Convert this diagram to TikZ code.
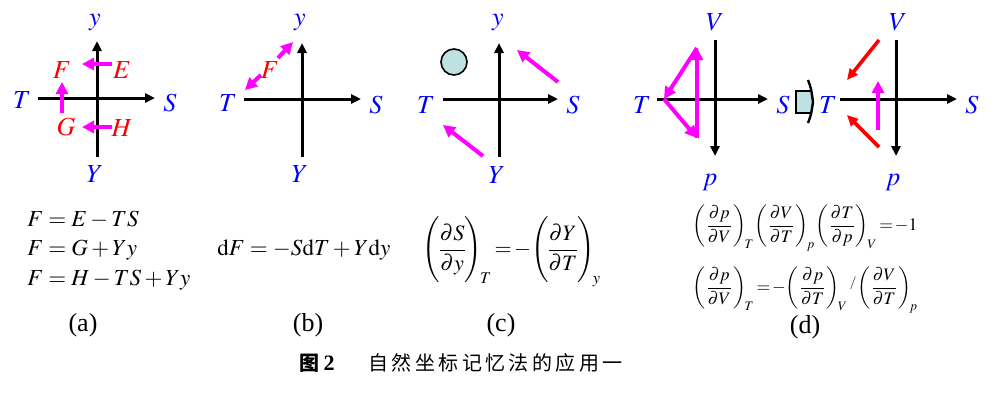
\documentclass[tikz,border=0pt]{standalone}
\usepackage{amsmath}
\usepackage{mathptmx}
\usepackage{fontspec}
\setmainfont{Liberation Serif}
\newfontfamily\cjk{Noto Sans CJK SC}
\usetikzlibrary{arrows.meta}
\definecolor{lila}{RGB}{255,0,255}
\definecolor{krasn}{RGB}{255,0,0}
\definecolor{sin}{RGB}{0,0,255}
\definecolor{bir}{RGB}{190,225,225}
\newcommand{\vstoyka}{\rule[-12pt]{0pt}{29pt}}
\tikzset{
  os/.style={line width=1.5pt, -{Triangle[length=5pt,width=4.5pt]}},
  strel/.style={lila, line width=2pt, -{Triangle[length=6pt,width=6pt]}},
  rstrel/.style={krasn, line width=1.8pt, -{Triangle[length=5.5pt,width=5pt]}},
  bukva/.style={text=sin, inner sep=0pt, font=\fontsize{13}{15}\selectfont},
  rbukva/.style={text=krasn, inner sep=0pt, font=\fontsize{13}{15}\selectfont},
  formula/.style={anchor=west, inner sep=0pt, font=\fontsize{11.5}{13}\selectfont},
  podpis/.style={inner sep=0pt, font=\fontsize{13}{15}\selectfont},
}
\begin{document}
\begin{tikzpicture}[x=0.5pt, y=-0.5pt]
                \useasboundingbox ( 0, 0 ) rectangle ( 1000, 408 );
% панель (a)
                \coordinate (a-l) at ( 38, 98 );
                \coordinate (a-r) at ( 155, 98 );
                \coordinate (a-b) at ( 97, 157 );
                \coordinate (a-t) at ( 97, 41 );
                \draw [os] (a-l) -- (a-r);
                \draw [os] (a-b) -- (a-t);
                \node [bukva] (a-y) at ( 95, 22 ) {$y$};
                \node [bukva] (a-T) at ( 22, 100 ) {$T$};
                \node [bukva] (a-S) at ( 170, 103 ) {$S$};
                \node [bukva] (a-Y) at ( 95, 174 ) {$Y$};
                \node [rbukva] (a-F) at ( 62, 70 ) {$F$};
                \node [rbukva] (a-E) at ( 122, 70 ) {$E$};
                \node [rbukva] (a-G) at ( 66, 127 ) {$G$};
                \node [rbukva] (a-H) at ( 122, 128 ) {$H$};
                \coordinate (a-e1) at ( 112, 64 );
                \coordinate (a-e2) at ( 82, 64 );
                \coordinate (a-h1) at ( 112, 127 );
                \coordinate (a-h2) at ( 82, 127 );
                \coordinate (a-g1) at ( 62, 113 );
                \coordinate (a-g2) at ( 62, 82 );
                \draw [strel] (a-e1) -- (a-e2);
                \draw [strel] (a-h1) -- (a-h2);
                \draw [strel] (a-g1) -- (a-g2);
% панель (b)
                \coordinate (b-l) at ( 244, 99 );
                \coordinate (b-r) at ( 361, 99 );
                \coordinate (b-b) at ( 302, 157 );
                \coordinate (b-t) at ( 302, 43 );
                \draw [os] (b-l) -- (b-r);
                \draw [os] (b-b) -- (b-t);
                \node [bukva] (b-y) at ( 300, 22 ) {$y$};
                \node [bukva] (b-T) at ( 228, 103 ) {$T$};
                \node [bukva] (b-S) at ( 376, 105 ) {$S$};
                \node [bukva] (b-Y) at ( 300, 174 ) {$Y$};
                \node [rbukva] (b-F) at ( 270, 70 ) {$F$};
                \coordinate (b-f1) at ( 261, 75 );
                \coordinate (b-f2) at ( 245, 90 );
                \coordinate (b-f3) at ( 278, 58 );
                \coordinate (b-f4) at ( 293, 42 );
                \draw [strel] (b-f1) -- (b-f2);
                \draw [strel] (b-f3) -- (b-f4);
% панель (c)
                \coordinate (c-l) at ( 443, 99 );
                \coordinate (c-r) at ( 558, 99 );
                \coordinate (c-b) at ( 499, 157 );
                \coordinate (c-t) at ( 499, 43 );
                \draw [os] (c-l) -- (c-r);
                \draw [os] (c-b) -- (c-t);
                \node [bukva] (c-y) at ( 498, 22 ) {$y$};
                \node [bukva] (c-T) at ( 426, 105 ) {$T$};
                \node [bukva] (c-S) at ( 573, 105 ) {$S$};
                \node [bukva] (c-Y) at ( 497, 175 ) {$Y$};
                \draw [fill=bir, line width=0.8pt] ( 454, 62 ) circle ( 13 );
                \coordinate (c-s1) at ( 558, 82 );
                \coordinate (c-s2) at ( 517, 50 );
                \coordinate (c-s3) at ( 483, 156 );
                \coordinate (c-s4) at ( 443, 125 );
                \draw [strel] (c-s1) -- (c-s2);
                \draw [strel] (c-s3) -- (c-s4);
% панель (d), слева
                \coordinate (d-l) at ( 657, 99 );
                \coordinate (d-r) at ( 768, 99 );
                \coordinate (d-t) at ( 715, 40 );
                \coordinate (d-b) at ( 715, 156 );
                \draw [os] (d-l) -- (d-r);
                \draw [os] (d-t) -- (d-b);
                \node [bukva] (d-V) at ( 715, 22 ) {$V$};
                \node [bukva] (d-T) at ( 642, 105 ) {$T$};
                \node [bukva] (d-S) at ( 783, 105 ) {$S$};
                \node [bukva] (d-p) at ( 710, 182 ) {$p$};
                \coordinate (d-v0) at ( 664, 99 );
                \coordinate (d-v1) at ( 697, 138 );
                \coordinate (d-v2) at ( 697, 48 );
                \draw [strel] (d-v0) -- (d-v1);
                \draw [strel] (d-v1) -- (d-v2);
                \draw [strel] (d-v2) -- (d-v0);
% переход
                \fill [bir] ( 796, 91 ) -- ( 810, 91 ) -- ( 813, 102 ) -- ( 810, 113 ) -- ( 796, 113 ) -- cycle;
                \draw [line width=0.9pt] ( 810, 91 ) -- ( 796, 91 ) -- ( 796, 113 ) -- ( 810, 113 );
                \draw [line width=1.2pt] ( 808, 80 ) .. controls ( 811, 88 ) .. ( 813, 102 )
                        .. controls ( 811, 115 ) .. ( 808, 123 );
% панель (d), справа
                \coordinate (e-l) at ( 840, 99 );
                \coordinate (e-r) at ( 957, 99 );
                \coordinate (e-t) at ( 896, 40 );
                \coordinate (e-b) at ( 896, 156 );
                \draw [os] (e-l) -- (e-r);
                \draw [os] (e-t) -- (e-b);
                \node [bukva] (e-V) at ( 898, 22 ) {$V$};
                \node [bukva] (e-T) at ( 828, 105 ) {$T$};
                \node [bukva] (e-S) at ( 972, 105 ) {$S$};
                \node [bukva] (e-p) at ( 893, 182 ) {$p$};
                \coordinate (e-r1) at ( 879, 40 );
                \coordinate (e-r2) at ( 847, 80 );
                \coordinate (e-r3) at ( 879, 147 );
                \coordinate (e-r4) at ( 847, 115 );
                \coordinate (e-m1) at ( 878, 130 );
                \coordinate (e-m2) at ( 878, 81 );
                \draw [rstrel] (e-r1) -- (e-r2);
                \draw [rstrel] (e-r3) -- (e-r4);
                \draw [strel] (e-m1) -- (e-m2);
% формулы
                \node [formula] (fa1) at ( 27, 220 ) {$F = E - TS$};
                \node [formula] (fa2) at ( 27, 250 ) {$F = G + Yy$};
                \node [formula] (fa3) at ( 27, 280 ) {$F = H - TS + Yy$};
                \node [formula] (fb) at ( 217, 250 ) {$\mathrm{d}F = -S\mathrm{d}T + Y\mathrm{d}y$};
                \node [formula, font=\fontsize{11}{13}\selectfont] (fc) at ( 422, 252 )
                        {$\left(\!\vstoyka\dfrac{\partial S}{\partial y}\!\right)_{\!T}\!=\!-\!\left(\!\vstoyka\dfrac{\partial Y}{\partial T}\!\right)_{\!y}$};
                \node [formula, font=\fontsize{8.8}{10}\selectfont] (fd1) at ( 692, 228 )
                        {$\left(\dfrac{\partial p}{\partial V}\right)_{\!T}\!\left(\dfrac{\partial V}{\partial T}\right)_{\!p}\!\left(\dfrac{\partial T}{\partial p}\right)_{\!V}\!=\!-1$};
                \node [formula, font=\fontsize{8.8}{10}\selectfont] (fd2) at ( 692, 290 )
                        {$\left(\dfrac{\partial p}{\partial V}\right)_{\!T}\!=\!-\!\left(\dfrac{\partial p}{\partial T}\right)_{\!V}{}^{/}\!\left(\dfrac{\partial V}{\partial T}\right)_{\!p}$};
% подписи
                \node [podpis] (pa) at ( 83, 325 ) {(a)};
                \node [podpis] (pb) at ( 308, 325 ) {(b)};
                \node [podpis] (pc) at ( 501, 325 ) {(c)};
                \node [podpis] (pd) at ( 805, 327 ) {(d)};
                \node [inner sep=0pt, font=\fontsize{10}{12}\selectfont\cjk\bfseries] (fig) at ( 309, 363 ) {图};
                \node [inner sep=0pt, font=\fontsize{11}{12}\selectfont\bfseries] (fign) at ( 329, 363 ) {2};
                \node [inner sep=0pt, anchor=west, font=\fontsize{10}{12}\selectfont\cjk\addfontfeature{LetterSpace=17}] (cap) at ( 368, 363 ) {自然坐标记忆法的应用一};
\end{tikzpicture}
\end{document}
